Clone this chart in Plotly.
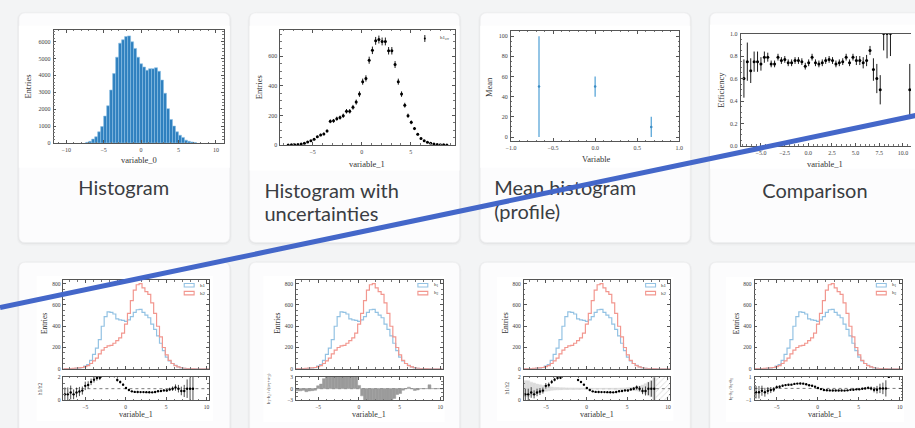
import numpy as np
import plotly.graph_objects as go

W, H = 915, 428

# ---------------- data ----------------
# Histogram of variable_0
v0_centers = [-7.2, -6.8, -6.4, -6.0, -5.6, -5.2, -4.8, -4.4, -4.0, -3.6, -3.2, -2.8, -2.4,
              -2.0, -1.6, -1.2, -0.8, -0.4, 0.0, 0.4, 0.8, 1.2, 1.6, 2.0, 2.4, 2.8, 3.2,
              3.6, 4.0, 4.4, 4.8, 5.2, 5.6, 6.0, 6.4, 6.8, 7.2]
v0_counts = [40, 100, 230, 370, 660, 970, 1590, 2200, 3130, 4100, 5070, 5900, 6100,
             6290, 6330, 5980, 5590, 5070, 4680, 4490, 4300, 4390, 4390, 4450, 4240, 3720, 2940,
             2030, 1390, 1000, 660, 460, 330, 170, 100, 60, 30]
v0_width = 0.4

# Histogram of variable_1 with Poisson uncertainties
v1_centers = [-7.49, -7.16, -6.83, -6.50, -6.17, -5.84, -5.51, -5.18, -4.85, -4.52,
              -4.19, -3.86, -3.53, -3.20, -2.87, -2.54, -2.21, -1.88, -1.55, -1.22,
              -0.89, -0.56, -0.23, 0.10, 0.43, 0.76, 1.09, 1.42, 1.75, 2.08,
              2.41, 2.74, 3.07, 3.40, 3.73, 4.06, 4.39, 4.72, 5.05, 5.38,
              5.71, 6.04, 6.37, 6.70, 7.03, 7.36, 7.69, 8.02, 8.35, 8.68]
v1_counts = [0, 1, 2, 4, 7, 12, 20, 29, 38, 55,
             68, 75, 95, 160, 163, 178, 185, 198, 228, 228,
             255, 290, 344, 428, 450, 573, 640, 704, 713, 700,
             700, 637, 637, 544, 428, 344, 269, 198, 153, 111,
             73, 44, 29, 18, 11, 7, 3, 2, 1, 0]

# Profile (mean per bin)
prof_x = [-0.667, 0.0, 0.667]
prof_mean = [50, 50, 10]
prof_err = [50, 10, 10]

# Efficiency vs variable_1
eff_x = [-6.80, -6.44, -6.08, -5.72, -5.36, -5.00, -4.64, -4.28, -3.92, -3.56,
         -3.20, -2.84, -2.48, -2.12, -1.76, -1.40, -1.04, -0.68, -0.32, 0.04,
         0.40, 0.76, 1.12, 1.48, 1.84, 2.20, 2.56, 2.92, 3.28, 3.64,
         4.00, 4.36, 4.72, 5.08, 5.44, 5.80, 6.16, 6.52, 6.88, 7.24,
         7.60, 7.96, 8.32, 8.68, 10.72]
eff_val = [0.60, 0.75, 0.67, 0.75, 0.75, 0.73, 0.79, 0.79, 0.73, 0.73,
           0.79, 0.76, 0.77, 0.74, 0.74, 0.76, 0.76, 0.75, 0.71, 0.74,
           0.79, 0.74, 0.73, 0.74, 0.76, 0.77, 0.76, 0.73, 0.74, 0.75,
           0.79, 0.74, 0.79, 0.76, 0.76, 0.74, 0.76, 0.85, 0.68, 0.60,
           0.50, 1.00, 1.00, 1.00, 0.50]
eff_lo = [0.17, 0.17, 0.11, 0.09, 0.09, 0.06, 0.05, 0.04, 0.03, 0.03,
          0.03, 0.03, 0.03, 0.03, 0.03, 0.03, 0.03, 0.03, 0.03, 0.03,
          0.03, 0.03, 0.03, 0.03, 0.03, 0.03, 0.03, 0.03, 0.03, 0.03,
          0.03, 0.03, 0.03, 0.04, 0.04, 0.05, 0.05, 0.04, 0.10, 0.13,
          0.13, 0.15, 0.22, 0.20, 0.23]
eff_hi = [0.17, 0.17, 0.11, 0.09, 0.09, 0.06, 0.05, 0.04, 0.03, 0.03,
          0.03, 0.03, 0.03, 0.03, 0.03, 0.03, 0.03, 0.03, 0.03, 0.03,
          0.03, 0.03, 0.03, 0.03, 0.03, 0.03, 0.03, 0.03, 0.03, 0.03,
          0.03, 0.03, 0.03, 0.04, 0.04, 0.05, 0.05, 0.04, 0.10, 0.13,
          0.13, 0.00, 0.00, 0.00, 0.23]

# Two histograms of variable_1 compared (50 bins from -7.7 to 10.3)
cmp_lo, cmp_hi, cmp_nbins = -7.7, 10.3, 50
h1_counts = [1, 1, 2, 2, 4, 6, 10, 25, 40, 80,
             135, 195, 275, 400, 490, 535, 530, 515, 470, 460,
             455, 445, 460, 490, 530, 555, 558, 530, 505, 480,
             420, 370, 310, 240, 170, 110, 75, 50, 33, 18,
             8, 4, 3, 2, 1, 1, 0, 0, 0, 0]
h2_counts = [2, 2, 3, 4, 6, 8, 12, 20, 30, 50,
             75, 100, 140, 175, 200, 215, 220, 240, 265, 290,
             335, 420, 520, 640, 740, 790, 800, 760, 725, 700,
             620, 520, 400, 300, 200, 130, 80, 50, 30, 18,
             10, 5, 3, 2, 1, 0, 0, 0, 0, 0]

# ---------------- derived quantities ----------------
edges = np.linspace(cmp_lo, cmp_hi, cmp_nbins + 1)
centers = 0.5 * (edges[:-1] + edges[1:])
bw = edges[1] - edges[0]
h1 = np.array(h1_counts, float)
h2 = np.array(h2_counts, float)
with np.errstate(divide="ignore", invalid="ignore"):
    ratio = np.where(h2 > 0, h1 / h2, np.nan)
    ratio = np.where(h1 > 0, ratio, np.nan)
    ratio_err = ratio * np.sqrt(1 / h1 + 1 / h2)
    ratio_err_h1 = np.where(h2 > 0, np.sqrt(h1) / h2, np.nan)
    band = np.where(h2 > 0, 1 / np.sqrt(h2), np.nan)
    pull = np.where(h1 + h2 > 0, (h1 - h2) / np.sqrt(h1 + h2), 0.0)
    asym = np.where(h1 + h2 > 0, (h1 - h2) / (h1 + h2), np.nan)
    asym_err = np.where(h1 + h2 > 0,
                        2 * np.sqrt(h2 ** 2 * h1 + h1 ** 2 * h2) / (h1 + h2) ** 2, np.nan)
ratio_err = np.nan_to_num(ratio_err, nan=5.0, posinf=5.0)


def step_xy(vals):
    xs = np.concatenate([[edges[0]], edges[:-1], [edges[-1], edges[-1]]])
    ys = np.concatenate([[0], vals, [vals[-1], 0]])
    return xs, ys


# ---------------- geometry helpers (pixel -> paper) ----------------
def dx(a, b):
    return [a / W, min(b / W, 1.0)]


def dy(top, bottom):
    return [1 - bottom / H, 1 - top / H]


def px(x):
    return x / W


def py(y):
    return 1 - y / H


SERIF = "Liberation Serif"
LINE = "#555555"


def axis(domain, rng, dtick, minor_dtick, anchor, fmt=None, labels=True, mirror="allticks",
         tick_size=6):
    d = dict(domain=domain, range=rng, anchor=anchor, dtick=dtick, tick0=0,
             showline=True, linecolor=LINE, linewidth=0.8, mirror=mirror,
             ticks="inside", ticklen=3, tickwidth=0.6, tickcolor=LINE,
             showgrid=False, zeroline=False, showticklabels=labels,
             tickfont=dict(family=SERIF, size=tick_size, color="#3d3d3d"),
             minor=dict(ticks="inside", ticklen=1.6, tickwidth=0.5, tickcolor="#777777",
                        dtick=minor_dtick, tick0=0, showgrid=False),
             fixedrange=True, ticklabelstandoff=1)
    if fmt:
        d["tickformat"] = fmt
    return d


fig = go.Figure()
layout = {}

# ---- top row ----
layout["xaxis"] = axis(dx(49, 221), [-11.7, 11.06], 5, 1, "y")
layout["yaxis"] = axis(dy(27, 142), [0, 6700], 1000, 200, "x")
fig.add_trace(go.Bar(x=v0_centers, y=v0_counts, width=v0_width,
                     marker=dict(color="#2f80bf", line=dict(color="#8cc0e4", width=0.6)),
                     xaxis="x", yaxis="y"))

layout["xaxis2"] = axis(dx(278, 454), [-8.3, 9.46], 5, 1, "y2")
layout["yaxis2"] = axis(dy(27, 144), [0, 780], 200, 50, "x2")
fig.add_trace(go.Scatter(x=v1_centers, y=v1_counts, mode="markers",
                         marker=dict(color="black", size=3),
                         error_y=dict(type="data", array=np.sqrt(v1_counts), thickness=0.9,
                                      width=0, color="black"),
                         xaxis="x2", yaxis="y2"))

layout["xaxis3"] = axis(dx(511, 681), [-1.0, 1.0], 0.5, 0.1, "y3", fmt=".1f")
layout["yaxis3"] = axis(dy(28, 140), [-4, 105.5], 20, 5, "x3")
fig.add_trace(go.Scatter(x=prof_x, y=prof_mean, mode="markers",
                         marker=dict(color="#3b8cc4", size=2.5),
                         error_y=dict(type="data", array=prof_err, thickness=1.3, width=0,
                                      color="#5aa6d8"),
                         xaxis="x3", yaxis="y3"))

layout["xaxis4"] = axis(dx(743, 915), [-7.14, 10.85], 2.5, 0.5, "y4", fmt=".1f", mirror=True)
layout["yaxis4"] = axis(dy(31, 145), [0, 1.0], 0.2, 0.05, "x4", fmt=".1f", mirror=False)
fig.add_trace(go.Scatter(x=eff_x, y=eff_val, mode="markers",
                         marker=dict(color="black", size=3),
                         error_y=dict(type="data", array=eff_hi, arrayminus=eff_lo,
                                      thickness=0.9, width=0, color="black"),
                         xaxis="x4", yaxis="y4"))

# ---- bottom row: main + lower panel per card ----
BLUE, RED = "#93c2e3", "#f2978f"
cards2 = [(59, 206), (294, 442), (524, 672), (757, 906)]
lower_ranges = [[-0.03, 2.06], [-3.1, 3.15], [-0.03, 2.06], [-1.04, 1.02]]
lower_dticks = [(2, 0.5), (3, 1), (2, 0.5), (1, 0.25)]
RATIO_TOP = 2.06

for i, (l, r) in enumerate(cards2):
    m = 5 + 2 * i
    s = m + 1
    layout[f"xaxis{m}"] = axis(dx(l, r), [cmp_lo, cmp_hi], 5, 1, f"y{m}", labels=False,
                               tick_size=5.5)
    layout[f"yaxis{m}"] = axis(dy(281, 371), [0, 834], 200, 50, f"x{m}", tick_size=5.5)
    layout[f"xaxis{s}"] = axis(dx(l, r), [cmp_lo, cmp_hi], 5, 1, f"y{s}", tick_size=5.5)
    layout[f"yaxis{s}"] = axis(dy(379, 403), lower_ranges[i], lower_dticks[i][0],
                               lower_dticks[i][1], f"x{s}", tick_size=5.5)
    for vals, col in ((h1, BLUE), (h2, RED)):
        xs, ys = step_xy(vals)
        fig.add_trace(go.Scatter(x=xs, y=ys, mode="lines", line_shape="hv",
                                 line=dict(color=col, width=1.2),
                                 xaxis=f"x{m}", yaxis=f"y{m}"))

pts = dict(mode="markers", marker=dict(color="black", size=2.4))
# card 1: ratio
fig.add_trace(go.Scatter(x=centers, y=ratio, **pts,
                         error_y=dict(type="data", array=ratio_err, thickness=0.7, width=0,
                                      color="black"),
                         xaxis="x6", yaxis="y6"))
# card 2: pull
fig.add_trace(go.Bar(x=centers, y=pull, width=bw,
                     marker=dict(color="#9b9b9b", line=dict(color="#9b9b9b", width=0.5)),
                     xaxis="x8", yaxis="y8"))
# card 3: ratio with reference uncertainty band
fig.add_trace(go.Bar(x=centers, y=2 * band, base=1 - band, width=bw,
                     marker=dict(color="#dcdcdc", line=dict(color="#dcdcdc", width=0.5)),
                     xaxis="x10", yaxis="y10"))
empty = h2 == 0
fig.add_trace(go.Bar(x=centers[empty], y=np.full(empty.sum(), RATIO_TOP), width=bw,
                     marker=dict(color="rgba(0,0,0,0)", line_width=0,
                                 pattern=dict(shape="/", fgcolor="#a8a8a8", size=4,
                                              solidity=0.2)),
                     xaxis="x10", yaxis="y10"))
fig.add_trace(go.Scatter(x=centers, y=ratio, **pts,
                         error_y=dict(type="data", array=ratio_err_h1, thickness=0.7, width=0,
                                      color="black"),
                         xaxis="x10", yaxis="y10"))
# card 4: asymmetry
fig.add_trace(go.Scatter(x=centers, y=asym, **pts,
                         error_y=dict(type="data", array=asym_err, thickness=0.7, width=0,
                                      color="black"),
                         xaxis="x12", yaxis="y12"))

# ---- card titles on a full-page overlay axis ----
layout["xaxis13"] = dict(domain=[0, 1], range=[0, W], visible=False, fixedrange=True,
                         anchor="y13")
layout["yaxis13"] = dict(domain=[0, 1], range=[H, 0], visible=False, fixedrange=True,
                         anchor="x13")
titles = ["Histogram", "Histogram with", "uncertainties", "Mean histogram", "(profile)",
          "Comparison"]
title_x = [120, 262, 262, 494, 494, 818]
title_y = [190, 193, 216, 190, 214, 193]
title_pos = ["middle center", "middle right", "middle right", "middle right", "middle right",
             "middle center"]
fig.add_trace(go.Scatter(x=title_x, y=title_y, text=titles, mode="text",
                         textposition=title_pos, cliponaxis=False,
                         textfont=dict(family="Lato", size=20, color="#3a3d42"),
                         hoverinfo="skip", xaxis="x13", yaxis="y13"))

# ---- shapes: cards, image areas, legends, reference lines ----
shapes = []


def rounded(x0, y0, x1, y1, r, fill, line="rgba(0,0,0,0)", lw=0):
    rx, ry = r / W, r / H
    X0, X1, Y0, Y1 = px(x0), px(x1), py(y0), py(y1)
    path = (f"M {X0 + rx},{Y0} L {X1 - rx},{Y0} Q {X1},{Y0} {X1},{Y0 - ry} "
            f"L {X1},{Y1 + ry} Q {X1},{Y1} {X1 - rx},{Y1} L {X0 + rx},{Y1} "
            f"Q {X0},{Y1} {X0},{Y1 + ry} L {X0},{Y0 - ry} Q {X0},{Y0} {X0 + rx},{Y0} Z")
    return dict(type="path", path=path, xref="paper", yref="paper", fillcolor=fill,
                line=dict(color=line, width=lw), layer="below")


cards = [(14, 10, 227, 243), (247, 10, 459, 243), (480, 10, 692, 243), (712, 10, 940, 243),
         (14, 263, 227, 450), (247, 263, 459, 450), (480, 263, 692, 450), (712, 263, 940, 450)]
for (x0, y0, x1, y1) in cards:
    shapes.append(rounded(x0 - 2, y0 - 1, x1 + 2, y1 + 3, 9, "rgba(0,0,0,0.025)"))
    shapes.append(rounded(x0 - 1, y0, x1 + 1, y1 + 1.5, 8, "rgba(0,0,0,0.03)"))
    shapes.append(rounded(x0, y0, x1, y1, 7, "#fcfcfd", "#eeeff0", 0.6))

areas = [(14, 23, 227, 167), (247, 23, 459, 170), (480, 23, 692, 167), (712, 22, 940, 168),
         (32, 277, 210, 424), (261, 277, 444, 425), (497, 278, 675, 424), (728, 278, 908, 425)]
for (x0, y0, x1, y1) in areas:
    shapes.append(dict(type="rect", xref="paper", yref="paper", x0=px(x0), x1=px(x1),
                       y0=py(y1), y1=py(y0), fillcolor="white", line_width=0, layer="below"))

# reference lines in the lower panels
for s, yref_val in ((6, 1), (8, 0), (10, 1), (12, 0)):
    shapes.append(dict(type="line", xref=f"x{s} domain", yref=f"y{s}", x0=0, x1=1,
                       y0=yref_val, y1=yref_val, line=dict(color="#444", width=0.7, dash="dot"),
                       layer="below"))

# legend swatches for the comparison plots
legend_x = [181, 417, 647, 880]
for lx in legend_x:
    for (yt, col) in ((284.5, BLUE), (292.5, RED)):
        shapes.append(dict(type="rect", xref="paper", yref="paper", x0=px(lx), x1=px(lx + 10),
                           y0=py(yt + 3.5), y1=py(yt), fillcolor="rgba(0,0,0,0)",
                           line=dict(color=col, width=1.1), layer="above"))

# legend marker of the uncertainty histogram
shapes.append(dict(type="line", xref="paper", yref="paper", x0=px(424), x1=px(424),
                   y0=py(32.5), y1=py(39.5), line=dict(color="black", width=0.9), layer="above"))
shapes.append(dict(type="circle", xref="paper", yref="paper", x0=px(423), x1=px(425),
                   y0=py(37), y1=py(35), fillcolor="black", line_width=0, layer="above"))

# diagonal stroke across the page
shapes.append(dict(type="line", xref="paper", yref="paper", x0=px(-5), y0=py(309),
                   x1=px(925), y1=py(113), line=dict(color="#4467c9", width=5), layer="above"))

# ---- annotations: axis titles and legend labels ----
annotations = []


def note(x, y, text, size=8.5, angle=0, anchor="center"):
    annotations.append(dict(x=px(x), y=py(y), xref="paper", yref="paper", text=text,
                            showarrow=False, textangle=angle, xanchor=anchor, yanchor="middle",
                            font=dict(family=SERIF, size=size, color="#333333")))


note(135, 159, "variable_0")
note(23, 85, "Entries", angle=-90)
note(366, 163, "variable_1")
note(256, 85, "Entries", angle=-90)
note(597, 158, "Variable")
note(489, 85, "Mean", angle=-90)
note(828, 163, "variable_1")
note(723, 88, "Efficiency", angle=-90)
note(437, 36, "h1<sub>err</sub>", size=5, anchor="left")

x_title = [132, 368, 598, 828]
y_title = [40, 275, 505, 739]
lower_title_x = [35, 266, 507, 733]
lower_titles = ["h1/h2", "h<sub>1</sub>−h<sub>2</sub> / √(σ²<sub>1</sub>+σ²<sub>2</sub>)",
                "h1/h2", "h<sub>1</sub>−h<sub>2</sub> / h<sub>1</sub>+h<sub>2</sub>"]
legend_labels = [("h1", "h2"), ("h<sub>1</sub>", "h<sub>2</sub>"), ("h1", "h2"),
                 ("h<sub>1</sub>", "h<sub>2</sub>")]
for i in range(4):
    note(x_title[i], 417, "variable_1", size=8)
    note(y_title[i], 325, "Entries", size=7.5, angle=-90)
    note(lower_title_x[i], 391, lower_titles[i], size=4.2 if i in (1, 3) else 5.5, angle=-90)
    note(legend_x[i] + 14, 286.5, legend_labels[i][0], size=5, anchor="left")
    note(legend_x[i] + 14, 294.5, legend_labels[i][1], size=5, anchor="left")

fig.update_layout(
    width=W, height=H, margin=dict(l=0, r=0, t=0, b=0),
    paper_bgcolor="#f3f4f5", plot_bgcolor="rgba(0,0,0,0)",
    showlegend=False, barmode="overlay", shapes=shapes, annotations=annotations,
    **layout,
)

fig.write_html("out.html", config={"displayModeBar": False})
